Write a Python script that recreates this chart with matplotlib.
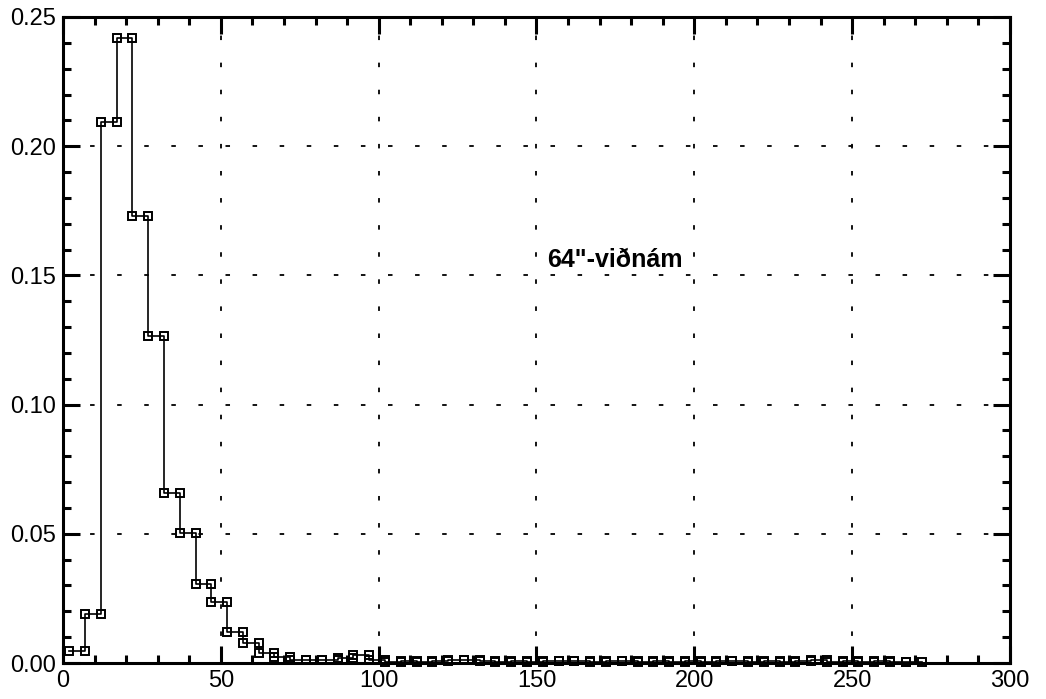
import numpy as np
import matplotlib
matplotlib.use("Agg")
import matplotlib.pyplot as plt
from matplotlib.ticker import MultipleLocator

bin_start = 2
bin_width = 5
fractions = [
    0.0048, 0.0188, 0.2095, 0.2417, 0.1731, 0.1265, 0.0657, 0.0502,
    0.0306, 0.0237, 0.0119, 0.0076, 0.0040, 0.0022, 0.0012, 0.0010,
    0.0012, 0.0020, 0.0030, 0.0010, 0.0005, 0.0008, 0.0004, 0.0008,
    0.0010, 0.0012, 0.0006, 0.0004, 0.0008, 0.0004, 0.0006, 0.0006,
    0.0008, 0.0004, 0.0008, 0.0006, 0.0004, 0.0008, 0.0004, 0.0006,
    0.0004, 0.0008, 0.0006, 0.0004, 0.0006, 0.0004, 0.0008, 0.0010,
    0.0004, 0.0006, 0.0004, 0.0006, 0.0004, 0.0004,
]
label_text = '64"-viðnám'
label_pos = (153.5, 0.156)

x_ticks = [0, 50, 100, 150, 200, 250, 300]
y_ticks = [0.00, 0.05, 0.10, 0.15, 0.20, 0.25]

edges = bin_start + bin_width * np.arange(len(fractions) + 1)
xs = np.column_stack([edges[:-1], edges[1:]]).ravel()
ys = np.repeat(fractions, 2)

plt.rcParams['font.family'] = ['Liberation Sans', 'DejaVu Sans']

fig = plt.figure(figsize=(10.46, 6.99), dpi=100)
ax = fig.add_axes([0.0602, 0.0515, 0.9054, 0.9242])

ax.plot(xs, ys, color='black', linewidth=1.2, marker='s', markersize=6.3,
        markerfacecolor='none', markeredgecolor='black', markeredgewidth=1.4,
        clip_on=False, zorder=3)

ax.set_xlim(0, 300)
ax.set_ylim(0, 0.25)
ax.set_xticks(x_ticks)
ax.set_yticks(y_ticks)
ax.set_xticklabels([str(t) for t in x_ticks])
ax.set_yticklabels([f"{t:.2f}" for t in y_ticks])
ax.xaxis.set_minor_locator(MultipleLocator(10))
ax.yaxis.set_minor_locator(MultipleLocator(0.01))

ax.tick_params(which='both', direction='in', top=True, right=True,
               width=2.2, labelsize=17)
ax.tick_params(which='major', length=12, pad=5)
ax.tick_params(which='minor', length=6)

for sp in ax.spines.values():
    sp.set_linewidth(2.2)

ax.grid(True, which='major', color='black', linewidth=1.3,
        linestyle=(0, (2.5, 12.5)))

ax.text(label_pos[0], label_pos[1], label_text, fontsize=18,
        fontweight='bold', ha='left', va='center')

fig.savefig('out.png', dpi=100)
